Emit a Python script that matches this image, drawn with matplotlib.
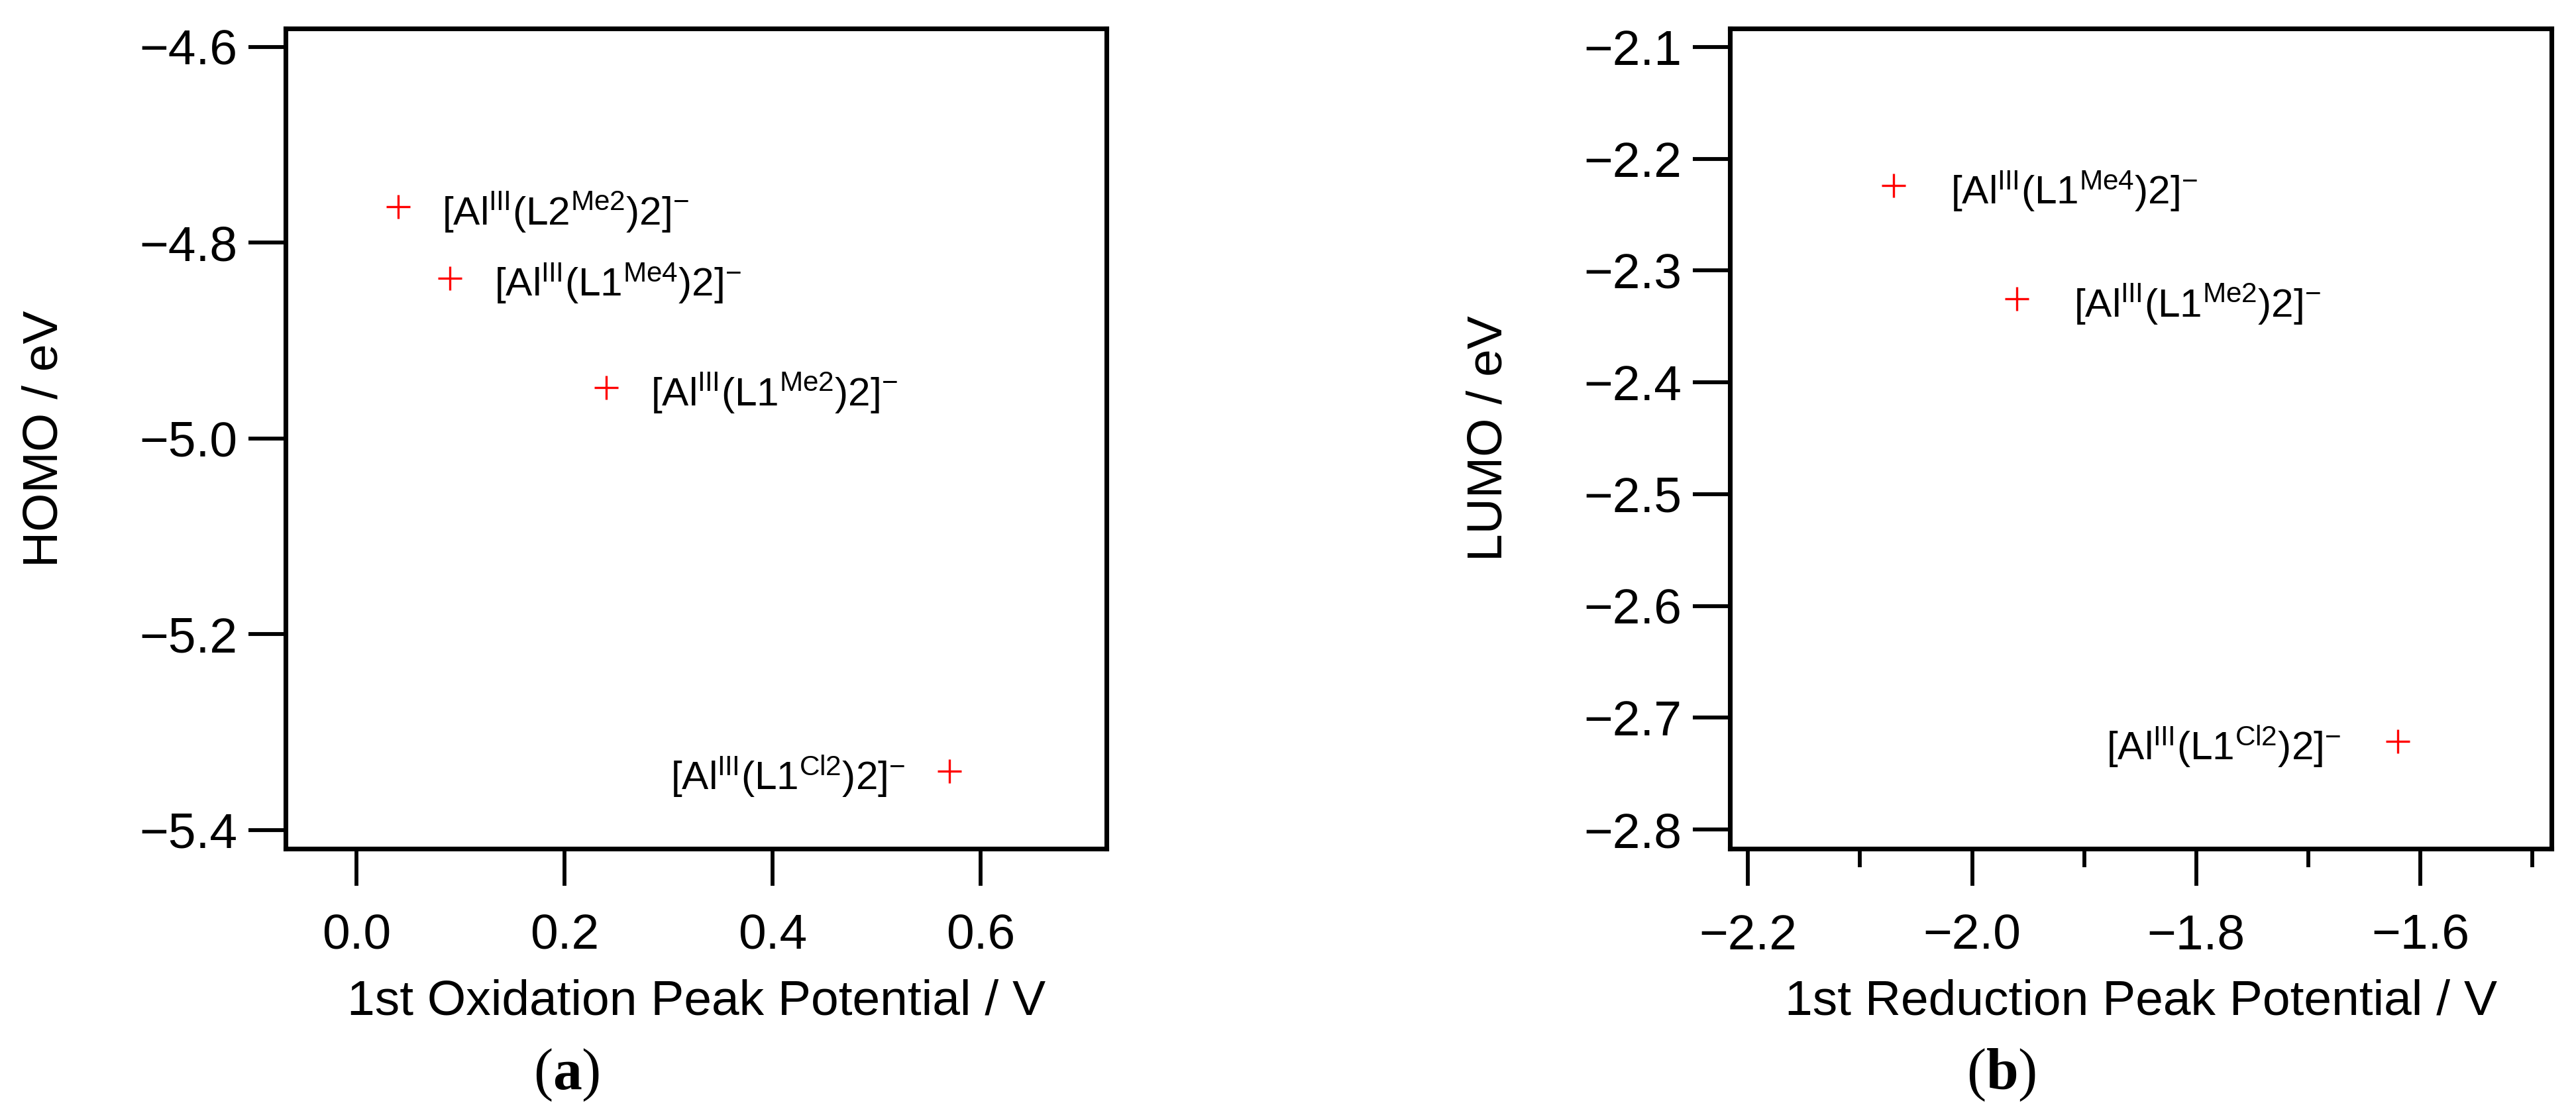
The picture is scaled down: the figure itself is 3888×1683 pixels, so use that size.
import matplotlib
matplotlib.use("Agg")
import matplotlib.pyplot as plt
from matplotlib import font_manager
from matplotlib.ticker import MultipleLocator

# annotations in the original are set in a narrower face than the axis text
installed = {f.name for f in font_manager.fontManager.ttflist}
if "Liberation Sans Narrow" in installed:
    ANN_FONT, ANN_FS = "Liberation Sans Narrow", 16.5
else:
    ANN_FONT, ANN_FS = "Liberation Sans", 14.5

plt.rcParams["font.family"] = ["Liberation Sans", "DejaVu Sans"]
plt.rcParams["mathtext.fontset"] = "custom"
plt.rcParams["mathtext.rm"] = ANN_FONT
plt.rcParams["mathtext.it"] = ANN_FONT + ":italic"
plt.rcParams["mathtext.bf"] = "Liberation Serif:bold"

# panel (a): HOMO vs 1st oxidation peak potential
ox_potential = [0.04, 0.09, 0.24, 0.57]
homo = [-4.763, -4.836, -4.948, -5.340]
labels_a = [
    r"[Al$^{\mathrm{III}}$(L2$^{\mathrm{Me2}}$)2]$^{-}$",
    r"[Al$^{\mathrm{III}}$(L1$^{\mathrm{Me4}}$)2]$^{-}$",
    r"[Al$^{\mathrm{III}}$(L1$^{\mathrm{Me2}}$)2]$^{-}$",
    r"[Al$^{\mathrm{III}}$(L1$^{\mathrm{Cl2}}$)2]$^{-}$",
]

# panel (b): LUMO vs 1st reduction peak potential
red_potential = [-2.07, -1.96, -1.62]
lumo = [-2.224, -2.325, -2.721]
labels_b = [
    r"[Al$^{\mathrm{III}}$(L1$^{\mathrm{Me4}}$)2]$^{-}$",
    r"[Al$^{\mathrm{III}}$(L1$^{\mathrm{Me2}}$)2]$^{-}$",
    r"[Al$^{\mathrm{III}}$(L1$^{\mathrm{Cl2}}$)2]$^{-}$",
]

# which side of the marker each label sits on
side_a = ["right", "right", "right", "left"]
side_b = ["right", "right", "left"]

FS = 18


def style_ax(ax):
    for sp in ax.spines.values():
        sp.set_linewidth(1.7)
    ax.tick_params(which="major", direction="out", length=13.5, width=1.4,
                   labelsize=FS, colors="black")
    ax.tick_params(which="minor", direction="out", length=6.7, width=1.4)
    ax.tick_params(axis="y", pad=4)
    ax.tick_params(axis="x", pad=10)


def draw_panel(ax, x, y, labels, sides, offset):
    ax.plot(x, y, linestyle="none", marker="+", color="#ff0000",
            markersize=8.5, markeredgewidth=0.8)
    for xi, yi, lab, side in zip(x, y, labels, sides):
        dx = offset if side == "right" else -offset
        ax.annotate(lab, (xi, yi), xytext=(dx, -2), textcoords="offset points",
                    ha="left" if side == "right" else "right", va="center",
                    fontsize=ANN_FS, family=ANN_FONT)


fig = plt.figure(figsize=(12.96, 5.61), dpi=300)
ax1 = fig.add_axes([0.1109, 0.2389, 0.3187, 0.7356])
ax2 = fig.add_axes([0.6716, 0.2389, 0.3189, 0.7356])

draw_panel(ax1, ox_potential, homo, labels_a, side_a, 16)
ax1.set_xlim(-0.068, 0.721)
ax1.set_ylim(-5.419, -4.581)
ax1.xaxis.set_major_locator(MultipleLocator(0.2))
ax1.yaxis.set_major_locator(MultipleLocator(0.2))
ax1.set_xlabel("1st Oxidation Peak Potential / V", fontsize=FS, labelpad=7)
ax1.set_ylabel("HOMO / eV", fontsize=FS, labelpad=26)
style_ax(ax1)

draw_panel(ax2, red_potential, lumo, labels_b, side_b, 20.5)
ax2.set_xlim(-2.216, -1.483)
ax2.set_ylim(-2.817, -2.0834)
ax2.xaxis.set_major_locator(MultipleLocator(0.2))
ax2.xaxis.set_minor_locator(MultipleLocator(0.1))
ax2.yaxis.set_major_locator(MultipleLocator(0.1))
ax2.set_xlabel("1st Reduction Peak Potential / V", fontsize=FS, labelpad=7)
ax2.set_ylabel("LUMO / eV", fontsize=FS, labelpad=26)
style_ax(ax2)

fig.text(0.22, 0.036, r"($\mathbf{a}$)", family="Liberation Serif",
         fontsize=21, ha="center", va="center")
fig.text(0.777, 0.036, r"($\mathbf{b}$)", family="Liberation Serif",
         fontsize=21, ha="center", va="center")

fig.savefig("out.png", dpi=300, facecolor="white")
